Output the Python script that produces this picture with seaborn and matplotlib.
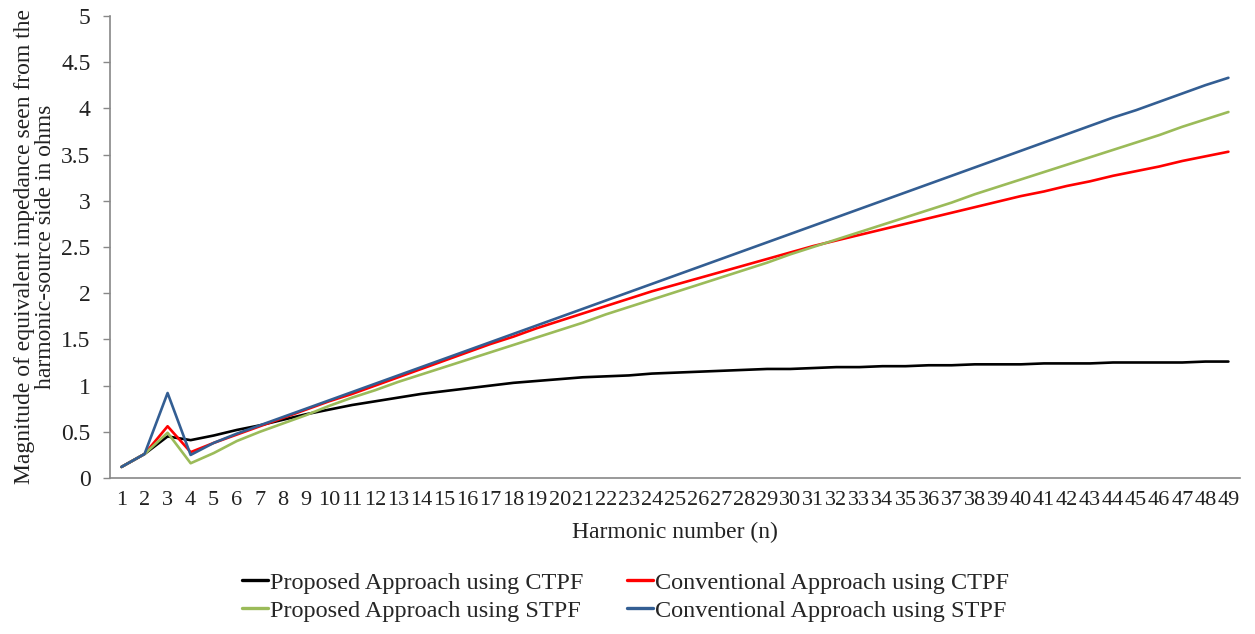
import seaborn as sns
import numpy as np
import pandas as pd
import matplotlib.pyplot as plt

# Harmonic numbers
harmonics = list(range(1, 50))

# Magnitude of equivalent impedance (ohms)
proposed_ctpf = [0.12, 0.26, 0.45, 0.41, 0.46, 0.52, 0.57, 0.63, 0.69, 0.74,
                 0.79, 0.83, 0.87, 0.91, 0.94, 0.97, 1.00, 1.03, 1.05, 1.07,
                 1.09, 1.10, 1.11, 1.13, 1.14, 1.15, 1.16, 1.17, 1.18, 1.18,
                 1.19, 1.20, 1.20, 1.21, 1.21, 1.22, 1.22, 1.23, 1.23, 1.23,
                 1.24, 1.24, 1.24, 1.25, 1.25, 1.25, 1.25, 1.26, 1.26]
conventional_ctpf = [0.12, 0.26, 0.56, 0.28, 0.38, 0.47, 0.56, 0.65, 0.74, 0.83,
                     0.91, 1.00, 1.09, 1.18, 1.27, 1.36, 1.45, 1.53, 1.62, 1.70,
                     1.78, 1.86, 1.94, 2.02, 2.09, 2.16, 2.23, 2.30, 2.37, 2.44,
                     2.51, 2.57, 2.63, 2.69, 2.75, 2.81, 2.87, 2.93, 2.99, 3.05,
                     3.10, 3.16, 3.21, 3.27, 3.32, 3.37, 3.43, 3.48, 3.53]
proposed_stpf = [0.12, 0.26, 0.49, 0.16, 0.27, 0.40, 0.50, 0.59, 0.68, 0.78,
                 0.87, 0.95, 1.04, 1.12, 1.20, 1.28, 1.36, 1.44, 1.52, 1.60,
                 1.68, 1.77, 1.85, 1.93, 2.01, 2.09, 2.17, 2.25, 2.33, 2.42,
                 2.50, 2.58, 2.66, 2.74, 2.82, 2.90, 2.98, 3.07, 3.15, 3.23,
                 3.31, 3.39, 3.47, 3.55, 3.63, 3.71, 3.80, 3.88, 3.96]
conventional_stpf = [0.12, 0.26, 0.92, 0.25, 0.38, 0.48, 0.57, 0.66, 0.75, 0.84,
                     0.93, 1.02, 1.11, 1.20, 1.29, 1.38, 1.47, 1.56, 1.65, 1.74,
                     1.83, 1.92, 2.01, 2.10, 2.19, 2.28, 2.37, 2.46, 2.55, 2.64,
                     2.73, 2.82, 2.91, 3.00, 3.09, 3.18, 3.27, 3.36, 3.45, 3.54,
                     3.63, 3.72, 3.81, 3.90, 3.98, 4.07, 4.16, 4.25, 4.33]

series_names = ["Proposed Approach using CTPF", "Conventional Approach using CTPF",
                "Proposed Approach using STPF", "Conventional Approach using STPF"]
series_values = [proposed_ctpf, conventional_ctpf, proposed_stpf, conventional_stpf]
colors = ["#000000", "#FF0000", "#9BBB59", "#335E93"]

# Long-form table for seaborn
frames = []
for name, vals in zip(series_names, series_values):
    frames.append(pd.DataFrame({"n": harmonics, "Z": vals, "series": name}))
df = pd.concat(frames, ignore_index=True)

sns.set_style("white")
plt.rcParams['font.family'] = ['Liberation Serif', 'DejaVu Serif']

fig = plt.figure(figsize=(12.55, 6.34), dpi=100)
ax = fig.add_axes([0.0876, 0.246, 0.9004, 0.729])

sns.lineplot(data=df, x="n", y="Z", hue="series", hue_order=series_names,
             palette=colors, linewidth=1.9, ax=ax, legend=False)

ax.set_xlim(0.5, 49.5)
ax.set_ylim(0, 5)
ax.set_xticks(harmonics)
ax.set_xticklabels([str(h) for h in harmonics], fontsize=16)
ax.set_yticks(np.arange(0, 5.01, 0.5))
ax.set_yticklabels(["0", "0.5", "1", "1.5", "2", "2.5", "3", "3.5", "4", "4.5", "5"], fontsize=17)
ax.tick_params(axis='x', length=0, pad=9, colors='#222222')
ax.tick_params(axis='y', length=5, width=1, color='#888888', direction='out', pad=9, labelcolor='#222222', left=True)

for side in ['top', 'right']:
    ax.spines[side].set_visible(False)
for side in ['left', 'bottom']:
    ax.spines[side].set_color('#888888')
    ax.spines[side].set_linewidth(1.2)

ax.set_xlabel("Harmonic number (n)", fontsize=17, color='#222222', labelpad=9)
ax.set_ylabel("Magnitude of equivalent impedance seen from the\nharmonic-source side in ohms",
              fontsize=17, color='#222222', labelpad=4, linespacing=1.0)

# Legend below the plot, two columns (filled column-wise)
order = [0, 2, 1, 3]
handles = [plt.Line2D([0], [0], color=colors[i], linewidth=2.4) for i in order]
labels = [series_names[i] for i in order]
fig.legend(handles, labels, loc='lower center', bbox_to_anchor=(0.4985, -0.015), ncol=2,
           frameon=False, fontsize=17.5, handlelength=1.05, handletextpad=0.1,
           columnspacing=1.8, labelspacing=0.25)

fig.savefig("out.png", dpi=100)
